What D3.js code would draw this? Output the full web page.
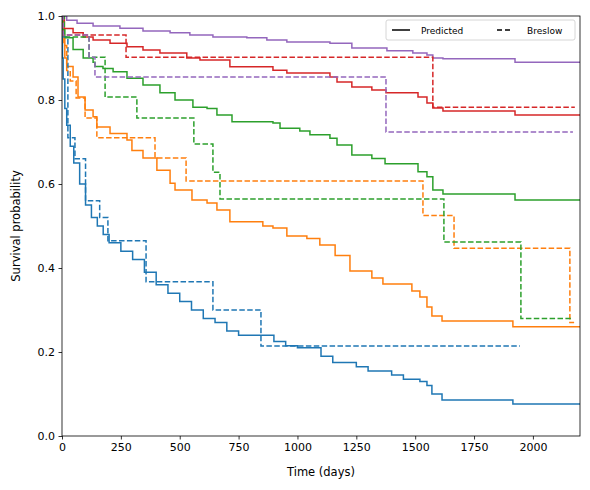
<!DOCTYPE html>
<html><head><meta charset="utf-8">
<script src="https://cdn.jsdelivr.net/npm/d3@7"></script>
<style>body{margin:0;background:#fff;font-family:"DejaVu Sans",sans-serif;}</style>
</head><body><svg id="chart" width="590" height="490"></svg>
<script>
var colors = ["#1f77b4","#ff7f0e","#2ca02c","#d62728","#9467bd"];
var xTicks = [0,250,500,750,1000,1250,1500,1750,2000];
var yTicks = [0,0.2,0.4,0.6,0.8,1.0];

// predicted survival curves, [day, survival] step points
var predBlue = [[0,1],[2,0.9],[5,0.85],[12,0.78],[20,0.74],[35,0.69],[50,0.65],[75,0.6],[100,0.55],[125,0.52],[150,0.5],[175,0.48],[200,0.46],[250,0.44],[300,0.42],[350,0.39],[400,0.36],[450,0.34],[500,0.32],[550,0.3],[600,0.28],[650,0.27],[700,0.25],[750,0.24],[850,0.24],[900,0.225],[950,0.215],[1000,0.21],[1100,0.19],[1150,0.175],[1250,0.165],[1300,0.155],[1400,0.145],[1450,0.135],[1520,0.13],[1550,0.12],[1571,0.1],[1614,0.086],[1915,0.076],[2200,0.076]];
var predOrange = [[0,1],[5,0.95],[12,0.9],[20,0.88],[47,0.855],[68,0.807],[98,0.776],[132,0.76],[148,0.736],[204,0.72],[276,0.705],[297,0.68],[344,0.662],[403,0.633],[459,0.602],[480,0.586],[552,0.562],[616,0.555],[658,0.538],[713,0.51],[853,0.5],[896,0.495],[955,0.476],[1040,0.47],[1095,0.455],[1160,0.43],[1223,0.393],[1316,0.376],[1363,0.362],[1486,0.345],[1520,0.331],[1550,0.307],[1571,0.286],[1614,0.274],[1915,0.26],[2200,0.26]];
var predGreen = [[0,1],[3,0.967],[12,0.948],[47,0.92],[90,0.9],[132,0.89],[140,0.88],[174,0.875],[217,0.867],[276,0.852],[344,0.836],[416,0.817],[480,0.8],[556,0.783],[616,0.78],[658,0.764],[722,0.748],[896,0.745],[926,0.733],[1010,0.726],[1053,0.717],[1138,0.709],[1168,0.693],[1231,0.669],[1316,0.661],[1372,0.648],[1512,0.629],[1550,0.617],[1575,0.586],[1618,0.576],[1924,0.562],[2200,0.562]];
var predRed = [[0,1],[10,0.97],[47,0.96],[90,0.95],[132,0.943],[204,0.935],[276,0.927],[344,0.919],[416,0.912],[530,0.9],[586,0.895],[713,0.879],[896,0.871],[955,0.864],[1138,0.855],[1168,0.843],[1231,0.831],[1316,0.824],[1376,0.817],[1512,0.807],[1550,0.793],[1575,0.781],[1618,0.774],[1924,0.764],[2200,0.764]];
var predPurple = [[0,1],[20,0.99],[64,0.983],[132,0.976],[246,0.971],[344,0.964],[459,0.96],[543,0.955],[641,0.95],[785,0.948],[870,0.943],[955,0.938],[1138,0.935],[1231,0.924],[1380,0.917],[1490,0.912],[1550,0.907],[1575,0.9],[1618,0.898],[1924,0.89],[2200,0.89]];

// Breslow estimates
var bresBlue = [[0,0.95],[25,0.71],[55,0.66],[100,0.56],[160,0.52],[195,0.465],[357,0.367],[641,0.3],[845,0.214],[1945,0.214]];
var bresOrange = [[0,1],[8,0.93],[20,0.87],[35,0.845],[60,0.805],[98,0.757],[148,0.71],[395,0.662],[527,0.607],[1533,0.525],[1665,0.447],[2157,0.27],[2175,0.27]];
var bresGreen = [[0,1],[10,0.95],[115,0.902],[183,0.807],[318,0.757],[560,0.695],[641,0.628],[671,0.564],[1622,0.462],[1949,0.28],[2170,0.28]];
var bresRed = [[0,1],[5,0.955],[272,0.902],[1575,0.783],[2178,0.783]];
var bresPurple = [[0,1],[5,0.955],[115,0.902],[140,0.855],[1376,0.724],[2170,0.724]];

var predicted = [predBlue,predOrange,predGreen,predRed,predPurple];
var breslow = [bresBlue,bresOrange,bresGreen,bresRed,bresPurple];

var svg = d3.select("#chart");
var m = {left:62, top:16, right:10, bottom:54};
var W = 590 - m.left - m.right, H = 490 - m.top - m.bottom;
var x = d3.scaleLinear().domain([0,2200]).range([0,W]);
var y = d3.scaleLinear().domain([0,1]).range([H,0]);
var g = svg.append("g").attr("transform","translate("+m.left+","+m.top+")");

g.append("clipPath").attr("id","clip").append("rect").attr("width",W).attr("height",H);
var line = d3.line().x(function(d){return x(d[0]);}).y(function(d){return y(d[1]);}).curve(d3.curveStepAfter);
var plot = g.append("g").attr("clip-path","url(#clip)");

predicted.forEach(function(s,i){
    plot.append("path").attr("d",line(s)).attr("fill","none").attr("stroke",colors[i]).attr("stroke-width",1.5);
});
breslow.forEach(function(s,i){
    plot.append("path").attr("d",line(s)).attr("fill","none").attr("stroke",colors[i]).attr("stroke-width",1.5).attr("stroke-dasharray","5.5,2.4");
});

var xa = g.append("g").attr("transform","translate(0,"+H+")").call(d3.axisBottom(x).tickValues(xTicks).tickFormat(d3.format("d")).tickSize(3.5).tickPadding(3.5));
var ya = g.append("g").call(d3.axisLeft(y).tickValues(yTicks).tickFormat(d3.format(".1f")).tickSize(3.5).tickPadding(3.5));
[xa,ya].forEach(function(a){
    a.selectAll("text").attr("font-size",11).attr("font-family","DejaVu Sans").attr("fill","#000");
    a.selectAll("line").attr("stroke","#000").attr("stroke-width",0.8);
    a.select(".domain").remove();
});
g.append("rect").attr("width",W).attr("height",H).attr("fill","none").attr("stroke","#000").attr("stroke-width",0.8);

svg.append("text").attr("x",m.left+W/2).attr("y",476).attr("text-anchor","middle").attr("font-size",11.5).text("Time (days)");
svg.append("text").attr("transform","translate(20,"+(m.top+H/2)+") rotate(-90)").attr("text-anchor","middle").attr("font-size",11.5).text("Survival probability");

// legend
var lg = svg.append("g").attr("transform","translate(386,20)");
lg.append("rect").attr("width",189).attr("height",20).attr("rx",2).attr("fill","#fff").attr("fill-opacity",0.8).attr("stroke","#ccc").attr("stroke-width",0.8);
lg.append("line").attr("x1",6).attr("x2",24).attr("y1",10).attr("y2",10).attr("stroke","#000").attr("stroke-width",1.5);
lg.append("text").attr("x",35).attr("y",13.5).attr("font-size",9).text("Predicted");
lg.append("line").attr("x1",111).attr("x2",127).attr("y1",10).attr("y2",10).attr("stroke","#000").attr("stroke-width",1.5).attr("stroke-dasharray","5,3");
lg.append("text").attr("x",141).attr("y",13.5).attr("font-size",9).text("Breslow");
</script></body></html>
